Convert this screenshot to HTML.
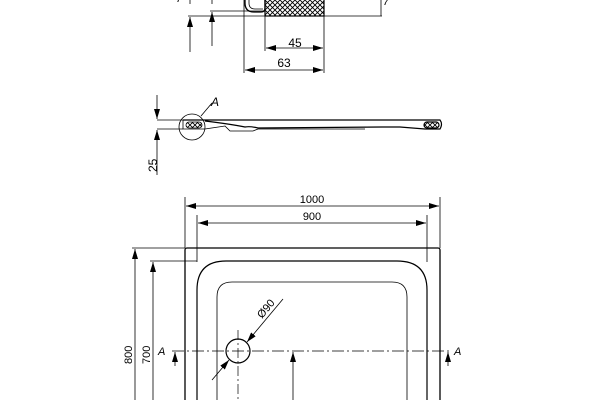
<!DOCTYPE html>
<html><head><style>body{margin:0;background:#fff}svg{display:block}</style></head><body>
<svg width="600" height="400" viewBox="0 0 600 400" xmlns="http://www.w3.org/2000/svg" font-family="Liberation Sans, sans-serif" font-size="11">
<defs>
<pattern id="h" width="5" height="5" patternUnits="userSpaceOnUse"><rect width="5" height="5" fill="#fff"/><path d="M0 0L5 5M5 0L0 5" stroke="#000" stroke-width="0.9"/></pattern>
<marker id="a" viewBox="0 0 10 6" refX="10" refY="3" markerWidth="10" markerHeight="6" orient="auto-start-reverse" markerUnits="userSpaceOnUse"><path d="M0 0L10 3L0 6z"/></marker>
</defs>
<g stroke="#000" fill="none" stroke-width="0.8">
<!-- top detail -->
<rect x="265" y="-4" width="59" height="20" fill="url(#h)" stroke-width="1.2"/>
<path d="M265 -4 V8 Q265 12 261 12 H254 Q245 12 245 3 V-4" stroke-width="1.3"/>
<path d="M249 -4 V3 Q249 9 255 9 H263" />
<line x1="188" y1="16" x2="382" y2="16"/>
<line x1="210" y1="11" x2="265" y2="11"/>
<line x1="190" y1="52" x2="190" y2="17" marker-end="url(#a)"/>
<line x1="212" y1="46" x2="212" y2="12" marker-end="url(#a)"/>
<line x1="190" y1="0" x2="190" y2="4"/>
<line x1="212" y1="0" x2="212" y2="4"/>
<line x1="244" y1="0" x2="244" y2="73"/>
<line x1="265" y1="16" x2="265" y2="51"/>
<line x1="324" y1="16" x2="324" y2="73"/>
<line x1="381" y1="0" x2="381" y2="16"/>
<line x1="266" y1="48" x2="323" y2="48" marker-start="url(#a)" marker-end="url(#a)"/>
<line x1="245" y1="70" x2="323" y2="70" marker-start="url(#a)" marker-end="url(#a)"/>
<!-- profile -->
<path d="M183 120 H440 Q443 124 440 129 H425 L400 127 H385 L258 128 Q250 126 245 127 Q230 124 205 121" stroke-width="1.2"/>
<path d="M183 120 L183 129 H205 L225 126 L230 131 H253 L258 129 H365"/>
<rect x="186" y="122" width="16" height="6" rx="3" fill="url(#h)"/>
<rect x="424" y="122" width="15" height="6" rx="3" fill="url(#h)" stroke-width="1.2"/>
<circle cx="192" cy="127" r="13"/>
<line x1="201" y1="116" x2="212" y2="103"/>
<line x1="157" y1="120" x2="183" y2="120"/>
<line x1="157" y1="129" x2="183" y2="129"/>
<line x1="157" y1="95" x2="157" y2="119" marker-end="url(#a)"/>
<line x1="157" y1="175" x2="157" y2="130" marker-end="url(#a)"/>
<!-- plan -->
<rect x="185" y="248" width="255" height="170" rx="2" stroke-width="1.3"/>
<path d="M197 420 V290 Q197 261 226 261 H397 Q427 261 427 290 V420" stroke-width="1.2"/>
<path d="M217 420 V297 Q217 282 232 282 H392 Q407 282 407 297 V420"/>
<line x1="185" y1="197" x2="185" y2="248"/>
<line x1="440" y1="197" x2="440" y2="248"/>
<line x1="197" y1="215" x2="197" y2="262"/>
<line x1="427" y1="215" x2="427" y2="262"/>
<line x1="186" y1="206" x2="439" y2="206" marker-start="url(#a)" marker-end="url(#a)"/>
<line x1="198" y1="223" x2="426" y2="223" marker-start="url(#a)" marker-end="url(#a)"/>
<line x1="132" y1="248" x2="185" y2="248"/>
<line x1="150" y1="261" x2="197" y2="261"/>
<line x1="135" y1="400" x2="135" y2="249" marker-end="url(#a)"/>
<line x1="153" y1="400" x2="153" y2="262" marker-end="url(#a)"/>
<line x1="172" y1="351" x2="452" y2="351" stroke-dasharray="12 3 2 3" stroke-width="0.7"/>
<line x1="175" y1="366" x2="175" y2="352" marker-end="url(#a)"/>
<line x1="448" y1="366" x2="448" y2="352" marker-end="url(#a)"/>
<circle cx="238" cy="351" r="12" stroke-width="1.2"/>
<line x1="238" y1="330" x2="238" y2="400" stroke-dasharray="10 3 2 3" stroke-width="0.7"/>
<line x1="212" y1="380" x2="229" y2="360" marker-end="url(#a)"/>
<line x1="283" y1="299" x2="247" y2="342" marker-end="url(#a)"/>
<line x1="293" y1="400" x2="293" y2="352" marker-end="url(#a)"/>
</g>
<g fill="#000">
<text x="295" y="47" text-anchor="middle" font-size="12">45</text>
<text x="284" y="67" text-anchor="middle" font-size="12">63</text>
<text x="383" y="5" font-style="italic">7</text>
<text x="176" y="2" font-style="italic">7</text>
<text x="211" y="106" font-style="italic" font-size="12">A</text>
<text transform="translate(157,172) rotate(-90)" font-size="12">25</text>
<text x="312" y="203" text-anchor="middle">1000</text>
<text x="312" y="220" text-anchor="middle">900</text>
<text transform="translate(132,364) rotate(-90)">800</text>
<text transform="translate(150,364) rotate(-90)">700</text>
<text x="158" y="355" font-style="italic">A</text>
<text x="454" y="355" font-style="italic">A</text>
<text transform="translate(262,319) rotate(-50)">Ø90</text>
<text transform="translate(285,400) rotate(90)">400</text>
</g>
</svg>
</body></html>
